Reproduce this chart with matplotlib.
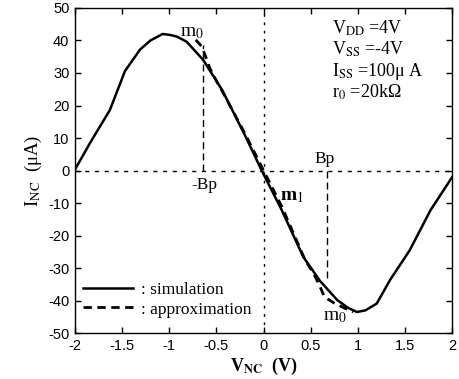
import matplotlib
matplotlib.use("Agg")
import matplotlib.pyplot as plt

plt.rcParams['mathtext.fontset'] = 'stix'
plt.rcParams['font.family'] = ['Liberation Sans', 'DejaVu Sans']

# simulation curve (V, uA)
sim_v = [-2.0, -1.84, -1.63, -1.47, -1.40, -1.31, -1.20, -1.07, -0.99, -0.92, -0.815,
         -0.64, -0.44, -0.20, -0.02, 0.19, 0.42, 0.60, 0.78, 0.90, 0.99, 1.08,
         1.20, 1.34, 1.55, 1.77, 2.0]
sim_i = [0.3, 8.5, 18.6, 30.6, 33.5, 37.2, 40.0, 42.0, 41.7, 41.2, 39.6,
         34.0, 24.8, 11.0, 0.0, -12.0, -26.5, -34.0, -39.8, -42.3, -43.5, -43.0,
         -40.9, -33.7, -24.5, -12.2, -2.0]

# piecewise approximation
app_v = [-0.72, -0.66, -0.62, -0.57, -0.49, -0.44, -0.20, 0.0, 0.20, 0.44, 0.53,
         0.60, 0.64, 0.68, 0.74, 0.85, 0.95]
app_i = [40.2, 38.3, 35.5, 31.5, 27.0, 24.5, 11.5, 0.0, -11.5, -27.5, -31.6,
         -35.8, -38.5, -39.5, -40.6, -42.2, -43.5]

bp_neg, bp_neg_top = -0.64, 38.5
bp_pos, bp_pos_bot = 0.67, -33.5

xticks = [-2, -1.5, -1, -0.5, 0, 0.5, 1, 1.5, 2]
xtick_labels = ['-2', '-1.5', '-1', '-0.5', '0', '0.5', '1', '1.5', '2']
yticks = [-50, -40, -30, -20, -10, 0, 10, 20, 30, 40, 50]
ytick_labels = [str(t) for t in yticks]

params = [r'V$_\mathrm{DD}$ =4V', r'V$_\mathrm{SS}$ =-4V',
          r'I$_\mathrm{SS}$ =100μ A', r'r$_\mathrm{0}$ =20kΩ']

serif = ['Liberation Serif', 'DejaVu Serif']

fig = plt.figure(figsize=(4.6, 3.79), dpi=100)
ax = fig.add_axes([0.163, 0.121, 0.820, 0.858])

ax.axhline(0, color='black', lw=1.0, ls=(0, (3, 4)))
ax.axvline(0, color='black', lw=1.0, ls=(0, (2, 4)))
ax.plot([bp_neg, bp_neg], [0, bp_neg_top], color='black', lw=1.0, ls=(0, (5, 3)))
ax.plot([bp_pos, bp_pos], [0, bp_pos_bot], color='black', lw=1.0, ls=(0, (5, 3)))

l2, = ax.plot(app_v, app_i, color='black', lw=2.0, ls=(0, (3, 2)), label=': approximation')
l1, = ax.plot(sim_v, sim_i, color='black', lw=1.8, label=': simulation')

ax.set_xlim(-2, 2)
ax.set_ylim(-50, 50)
ax.set_xticks(xticks)
ax.set_xticklabels(xtick_labels)
ax.set_yticks(yticks)
ax.set_yticklabels(ytick_labels)
ax.tick_params(direction='in', top=True, right=True, length=4, width=1,
               labelsize=10.5, pad=4)
for s in ax.spines.values():
    s.set_linewidth(1.0)

ax.set_xlabel(r'V$_\mathbf{NC}$  (V)', fontsize=13, labelpad=2,
              family=serif, fontweight='bold')
ax.set_ylabel(r'I$_\mathrm{NC}$  (μA)', fontsize=13.5, labelpad=3, family=serif)

for k, t in enumerate(params):
    ax.text(0.727, 43.8 - 6.6 * k, t, fontsize=13, va='center', ha='left', family=serif)

ax.text(-0.89, 42.5, r'm$_\mathrm{0}$', fontsize=14, va='center', ha='left', family=serif)
ax.text(0.63, -44.8, r'm$_\mathrm{0}$', fontsize=14, va='center', ha='left', family=serif)
ax.text(0.17, -8.0, r'm$_\mathrm{1}$', fontsize=14, va='center', ha='left', family=serif,
        fontweight='bold')
ax.text(-0.63, -4.4, '-Bp', fontsize=12.5, va='center', ha='center', family=serif)
ax.text(0.65, 3.4, 'Bp', fontsize=12.5, va='center', ha='center', family=serif)

leg = ax.legend(handles=[l1, l2], loc='lower left', bbox_to_anchor=(-0.02, 0.0),
                frameon=False, handlelength=2.9, handletextpad=0.45,
                labelspacing=0.2, prop={'family': serif, 'size': 12.5})

fig.savefig('out.png', dpi=100)
